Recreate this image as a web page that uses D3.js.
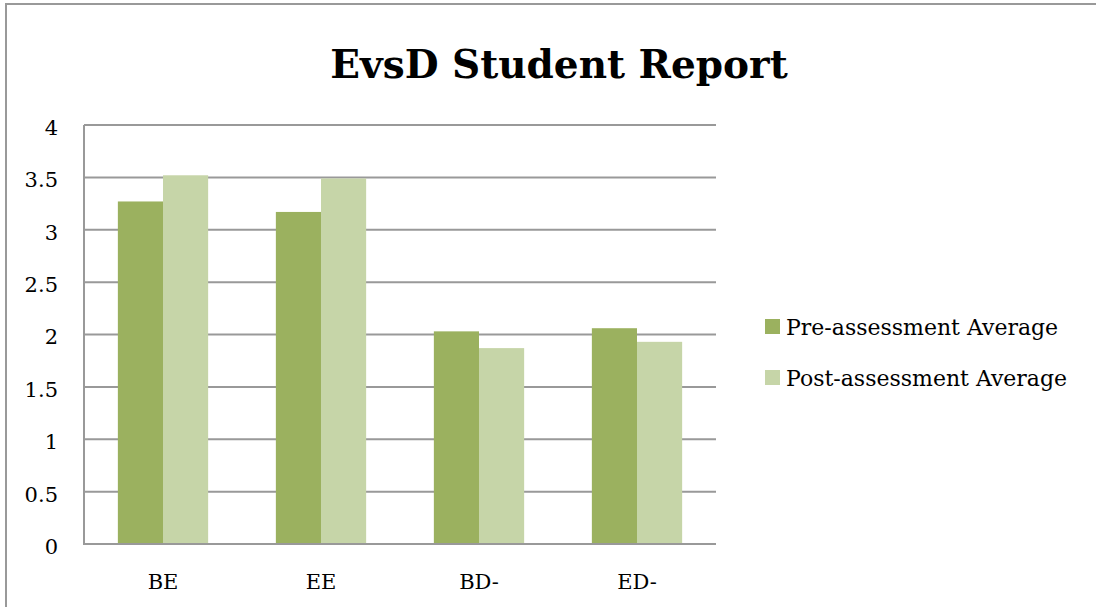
<!DOCTYPE html>
<html>
<head>
<meta charset="utf-8">
<script src="https://cdn.jsdelivr.net/npm/d3@7"></script>
<style>
  html, body { margin: 0; padding: 0; background: #fff; overflow: hidden; }
  svg { display: block; }
  text { font-family: "DejaVu Serif", "Liberation Serif", serif; fill: #000; }
</style>
</head>
<body>
<svg id="chart" width="1096" height="607"></svg>
<script>
const title = "EvsD Student Report";
const categories = ["BE", "EE", "BD-", "ED-"];
const seriesNames = ["Pre-assessment Average", "Post-assessment Average"];
const preValues = [3.27, 3.17, 2.03, 2.06];
const postValues = [3.52, 3.49, 1.87, 1.93];
const yTicks = [0, 0.5, 1, 1.5, 2, 2.5, 3, 3.5, 4];
const colors = ["#9BB15F", "#C6D5A8"];

const svg = d3.select("#chart");
const W = 1096, H = 607;
const plot = { left: 84, right: 716, top: 125, bottom: 544 };

// outer chart frame (only top & left edges are visible)
svg.append("path")
  .attr("d", `M6,${H} V4 H${W}`)
  .attr("fill", "none").attr("stroke", "#999").attr("stroke-width", 2);

const x = d3.scaleBand().domain(categories).range([plot.left, plot.right]).paddingInner(0).paddingOuter(0);
const sub = d3.scaleBand().domain(seriesNames).range([0, x.bandwidth()]).paddingInner(0).paddingOuter(0.75);
const y = d3.scaleLinear().domain([0, 4]).range([plot.bottom, plot.top]);

// gridlines
svg.append("g").selectAll("line").data(yTicks).join("line")
  .attr("x1", plot.left).attr("x2", plot.right)
  .attr("y1", d => y(d)).attr("y2", d => y(d))
  .attr("stroke", "#999").attr("stroke-width", 2);

// y axis labels
const yAxis = d3.axisLeft(y).tickValues(yTicks).tickSize(0).tickPadding(0).tickFormat(d3.format("~g"));
const yg = svg.append("g").attr("transform", `translate(${58},0)`).call(yAxis);
yg.select(".domain").remove();
yg.selectAll("text").attr("font-size", 21).attr("font-family", "DejaVu Serif").attr("dy", "0.45em").attr("fill", "#000");

// bars
const series = [preValues, postValues];
const groups = svg.append("g").selectAll("g").data(categories).join("g")
  .attr("transform", d => `translate(${x(d)},0)`);
groups.selectAll("rect")
  .data((c, i) => series.map((s, k) => ({ name: seriesNames[k], v: s[i], k })))
  .join("rect")
  .attr("x", d => sub(d.name))
  .attr("width", sub.bandwidth())
  .attr("y", d => y(d.v))
  .attr("height", d => y(0) - y(d.v))
  .attr("fill", d => colors[d.k]);

// axis lines
svg.append("line").attr("x1", plot.left).attr("x2", plot.left).attr("y1", plot.top).attr("y2", plot.bottom + 1)
  .attr("stroke", "#999").attr("stroke-width", 2);
svg.append("line").attr("x1", plot.left).attr("x2", plot.right).attr("y1", plot.bottom).attr("y2", plot.bottom)
  .attr("stroke", "#999").attr("stroke-width", 2);

// x labels
const xAxis = d3.axisBottom(x).tickSize(0).tickPadding(0);
const xg = svg.append("g").attr("transform", `translate(0,${589})`).call(xAxis);
xg.select(".domain").remove();
xg.selectAll("text").attr("font-size", 21).attr("font-family", "DejaVu Serif").attr("dy", 0).attr("fill", "#000");

// title
svg.append("text").attr("x", 559).attr("y", 78).attr("text-anchor", "middle")
  .attr("font-size", 39).attr("font-weight", "bold").text(title);

// legend
const lg = svg.append("g").selectAll("g").data(seriesNames).join("g")
  .attr("transform", (d, i) => `translate(765,${319 + i * 51})`);
lg.append("rect").attr("width", 15).attr("height", 15).attr("fill", (d, i) => colors[i]);
lg.append("text").attr("x", 21).attr("y", 16).attr("font-size", 22).text(d => d);
</script>
</body>
</html>
